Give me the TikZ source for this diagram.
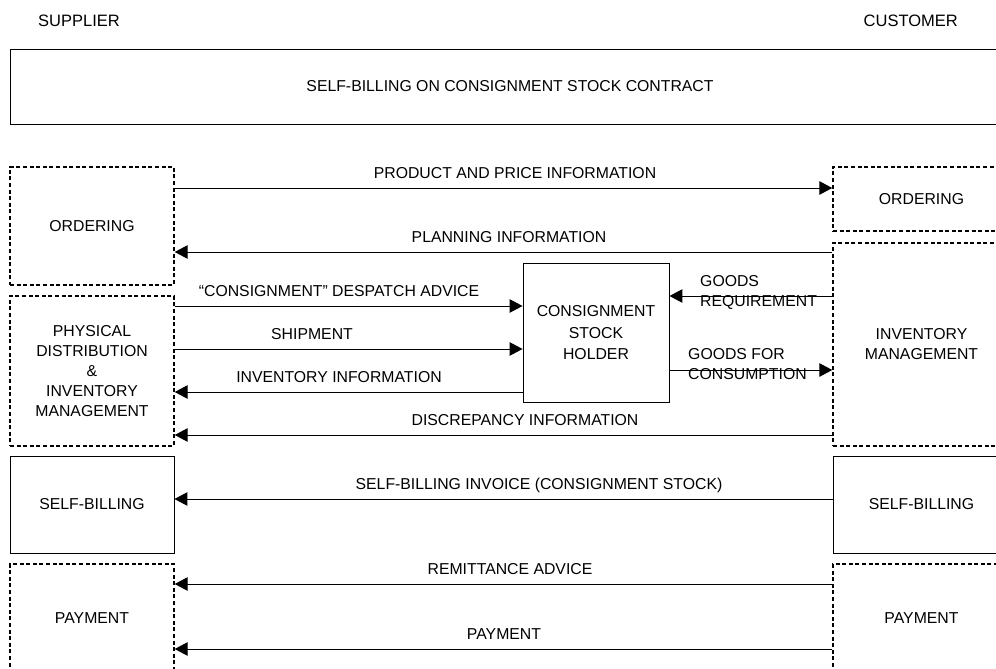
\documentclass[tikz,border=0pt]{standalone}
\usepackage{fontspec}
\setmainfont{Liberation Sans}
\usetikzlibrary{arrows.meta}

\begin{document}
\begin{tikzpicture}[x=1pt,y=-1pt,
    every node/.style={font=\fontsize{15.8}{20}\selectfont},
    box/.style={draw,line width=0.9pt,align=center,inner sep=0pt},
    dbox/.style={box,dash pattern=on 4pt off 2.6pt,line width=1.4pt},
    sup/.style={minimum width=164pt},
    cus/.style={minimum width=177pt},
    msg/.style={line width=1pt,-{Triangle[length=13pt,width=13.5pt]}},
    lbl/.style={anchor=base,yshift=10pt,inner sep=0pt}
]
    \clip (0,0) rectangle (996,669);

    % Headings and contract
    \node[anchor=west,inner sep=0pt,font=\fontsize{16.5}{20}\selectfont] (supplier) at (38,21) {SUPPLIER};
    \node[anchor=east,inner sep=0pt,font=\fontsize{16.5}{20}\selectfont] (customer) at (958,21) {CUSTOMER};
    \node[box,minimum width=1000pt,minimum height=75pt] (contract) at (510,86.5)
        {SELF-BILLING ON CONSIGNMENT STOCK CONTRACT};

    % Supplier side
    \node[dbox,sup,minimum height=118pt] (ordS) at (92,226) {ORDERING};
    \node[dbox,sup,minimum height=150pt] (pdiS) at (92,371)
        {PHYSICAL\\DISTRIBUTION\\\&\\INVENTORY\\MANAGEMENT};
    \node[box,sup,minimum height=97pt]   (sbS)  at (92,504.5) {SELF-BILLING};
    \node[dbox,sup,minimum height=108pt] (payS) at (92,618) {PAYMENT};

    % Customer side
    \node[dbox,cus,minimum height=64pt]  (ordC) at (921.5,199) {ORDERING};
    \node[dbox,cus,minimum height=203pt] (invC) at (921.5,344.5) {INVENTORY\\MANAGEMENT};
    \node[box,cus,minimum height=97pt]   (sbC)  at (921.5,504.5) {SELF-BILLING};
    \node[dbox,cus,minimum height=108pt] (payC) at (921.5,618) {PAYMENT};

    % Stock holder in between
    \node[box,minimum width=146pt,minimum height=139.5pt,
          font=\fontsize{15.8}{21.5}\selectfont] (csh) at (596,333)
        {CONSIGNMENT\\STOCK\\HOLDER};

    % Messages to the right
    \foreach \y/\a/\b/\cx/\txt in {
        188/ordS/ordC/515/{PRODUCT AND PRICE INFORMATION},
        306/pdiS/csh/339/{“CONSIGNMENT” DESPATCH ADVICE},
        349/pdiS/csh/312/{SHIPMENT}} {
        \draw[msg] (\a.east |- 0,\y) -- (\b.west |- 0,\y);
        \node[lbl] (m\y) at (\cx,\y) {\txt};
    }
    % Messages to the left
    \foreach \y/\a/\b/\cx/\txt in {
        252/invC/ordS/509/{PLANNING INFORMATION},
        392/csh/pdiS/339/{INVENTORY INFORMATION},
        435/invC/pdiS/525/{DISCREPANCY INFORMATION},
        499/sbC/sbS/539/{SELF-BILLING INVOICE (CONSIGNMENT STOCK)},
        584/payC/payS/510/{REMITTANCE ADVICE},
        649/payC/payS/504/{PAYMENT}} {
        \draw[msg] (\a.west |- 0,\y) -- (\b.east |- 0,\y);
        \node[lbl] (m\y) at (\cx,\y) {\txt};
    }

    % Goods between holder and inventory
    \draw[msg] (invC.west |- 0,296) -- (csh.east |- 0,296);
    \node[anchor=west,align=left,inner sep=0pt] (greq) at (700,292.5) {GOODS\\REQUIREMENT};
    \draw[msg] (csh.east |- 0,370) -- (invC.west |- 0,370);
    \node[anchor=west,align=left,inner sep=0pt] (gcon) at (688,364.5) {GOODS FOR\\CONSUMPTION};
\end{tikzpicture}
\end{document}
